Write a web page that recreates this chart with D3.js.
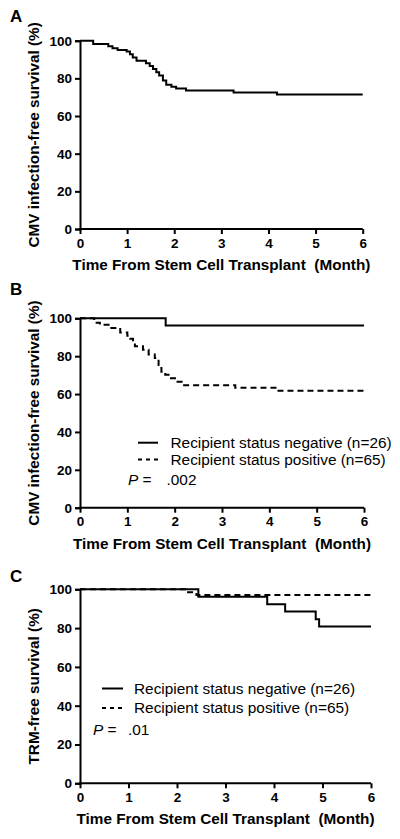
<!DOCTYPE html>
<html>
<head>
<meta charset="utf-8">
<script src="https://cdn.jsdelivr.net/npm/d3@7"></script>
<style>
  html, body { margin: 0; padding: 0; background: #fff; }
  svg { display: block; }
  text { font-family: "Liberation Sans", Arial, Helvetica, sans-serif; fill: #000; }
</style>
</head>
<body>
<svg id="chart" width="400" height="839"></svg>
<script>
// ---------------- DATA ----------------
const xTicks = [0, 1, 2, 3, 4, 5, 6];
const yTicks = [0, 20, 40, 60, 80, 100];
const xTitle = "Time From Stem Cell Transplant  (Month)";

// Panel A: all patients
const aTimes  = [0, 0.28, 0.60, 0.69, 0.80, 0.99, 1.06, 1.12, 1.20, 1.40, 1.48, 1.55, 1.62, 1.68, 1.76, 1.83, 1.94, 2.04, 2.25, 3.26, 4.18, 6.0];
const aValues = [100, 98.2, 97.1, 96.0, 95.1, 94.2, 92.8, 91.1, 89.4, 88.0, 86.6, 85.0, 83.2, 81.5, 78.8, 76.6, 75.6, 74.6, 73.6, 72.5, 71.4, 71.4];

// Panel B
const bNegTimes  = [0, 1.81, 6.0];
const bNegValues = [100, 96.2, 96.2];
const bPosTimes  = [0, 0.30, 0.42, 0.63, 0.85, 1.00, 1.06, 1.12, 1.16, 1.33, 1.45, 1.58, 1.66, 1.72, 1.80, 1.90, 2.03, 2.20, 3.28, 4.17, 6.0];
const bPosValues = [100, 97.7, 96.6, 94.9, 92.5, 90.8, 89.2, 87.4, 85.2, 83.4, 80.9, 79.0, 75.4, 71.8, 70.2, 68.3, 66.5, 64.7, 63.3, 61.7, 61.7];

// Panel C
const cNegTimes  = [0, 2.44, 3.86, 4.23, 4.86, 4.93, 6.0];
const cNegValues = [100, 96.2, 92.3, 88.5, 84.6, 80.8, 80.8];
const cPosTimes  = [0, 2.20, 2.40, 6.0];
const cPosValues = [100, 98.5, 97.1, 97.1];

const legendLabels = ["Recipient status negative (n=26)", "Recipient status positive (n=65)"];
const pValues = [".002", ".01"];
const panelLetters = ["A", "B", "C"];
const yTitles = ["CMV infection-free survival (%)", "CMV infection-free survival (%)", "TRM-free survival (%)"];

// ---------------- DRAW ----------------
const svg = d3.select("#chart");

function toPts(t, v) { return t.map((d, i) => [d, v[i]]); }

const panels = [
  { letter: panelLetters[0], letterY: 22, x0: 80, x1: 362.7, yTop: 40.7, yBot: 229, yTitle: yTitles[0],
    series: [{ pts: toPts(aTimes, aValues), dash: null }], legend: null },
  { letter: panelLetters[1], letterY: 295, x0: 80, x1: 364, yTop: 318.3, yBot: 507.7, yTitle: yTitles[1],
    series: [{ pts: toPts(bNegTimes, bNegValues), dash: null }, { pts: toPts(bPosTimes, bPosValues), dash: "6,4" }],
    legend: { lineX0: 138, lineX1: 158, textX: 170.5, y0: 442.7, dy: 16.7, pX: 128, pY: 485, pValX: 166.5, p: pValues[0] } },
  { letter: panelLetters[2], letterY: 582, x0: 80, x1: 371, yTop: 589.3, yBot: 783.3, yTitle: yTitles[2],
    series: [{ pts: toPts(cNegTimes, cNegValues), dash: null }, { pts: toPts(cPosTimes, cPosValues), dash: "6,4" }],
    legend: { lineX0: 102, lineX1: 123, textX: 134, y0: 688.5, dy: 19.5, pX: 93, pY: 735, pValX: 128, p: pValues[1] } }
];

panels.forEach(p => {
  const g = svg.append("g");
  const x = d3.scaleLinear().domain([0, 6]).range([p.x0, p.x1]);
  const y = d3.scaleLinear().domain([0, 100]).range([p.yBot, p.yTop]);

  // panel letter
  g.append("text").attr("x", 10).attr("y", p.letterY)
    .attr("font-size", 17).attr("font-weight", "bold").text(p.letter);

  // curves
  const line = d3.line().x(d => x(d[0])).y(d => y(d[1])).curve(d3.curveStepAfter);
  p.series.forEach(s => {
    g.append("path").attr("d", line(s.pts))
      .attr("fill", "none").attr("stroke", "#000").attr("stroke-width", 2)
      .attr("stroke-dasharray", s.dash);
  });

  // axes
  const xAxis = g.append("g").attr("transform", `translate(0,${p.yBot})`)
    .call(d3.axisBottom(x).tickValues(xTicks).tickFormat(d3.format("d")).tickSizeOuter(0).tickSize(5).tickPadding(4));
  const yAxis = g.append("g").attr("transform", `translate(${p.x0},0)`)
    .call(d3.axisLeft(y).tickValues(yTicks).tickFormat(d3.format("d")).tickSizeOuter(0).tickSize(5).tickPadding(3));
  [xAxis, yAxis].forEach(a => {
    a.select(".domain").attr("stroke", "#000").attr("stroke-width", 2);
    a.selectAll(".tick line").attr("stroke", "#000").attr("stroke-width", 2);
    a.selectAll(".tick text").attr("font-size", 13.5).attr("font-weight", "bold")
      .attr("font-family", "'Liberation Sans', Arial, sans-serif").attr("fill", "#000");
  });
  xAxis.select(".domain").attr("d", `M${p.x0 - 1},0H${p.x1}`);

  // x title
  g.append("text").attr("x", (p.x0 + p.x1) / 2).attr("y", p.yBot + 41)
    .attr("text-anchor", "middle").attr("font-size", 15.3).attr("font-weight", "bold")
    .style("white-space", "pre").attr("xml:space", "preserve").text(xTitle);

  // y title
  g.append("text")
    .attr("transform", `translate(38.5,${(p.yTop + p.yBot) / 2}) rotate(-90)`)
    .attr("text-anchor", "middle").attr("font-size", 15.3).attr("font-weight", "bold")
    .text(p.yTitle);

  // legend
  if (p.legend) {
    const L = p.legend;
    [null, "4,4"].forEach((dash, i) => {
      const yy = L.y0 + i * L.dy;
      g.append("line").attr("x1", L.lineX0).attr("x2", L.lineX1).attr("y1", yy).attr("y2", yy)
        .attr("stroke", "#000").attr("stroke-width", 2).attr("stroke-dasharray", dash);
      g.append("text").attr("x", L.textX).attr("y", yy + 5.3)
        .attr("font-size", 15.4).text(legendLabels[i]);
    });
    const pt = g.append("text").attr("x", L.pX).attr("y", L.pY).attr("font-size", 15.4)
      .attr("xml:space", "preserve").style("white-space", "pre");
    pt.append("tspan").attr("font-style", "italic").text("P");
    pt.append("tspan").text(" =  ");
    pt.append("tspan").attr("x", L.pValX).text(L.p);
  }
});
</script>
</body>
</html>
